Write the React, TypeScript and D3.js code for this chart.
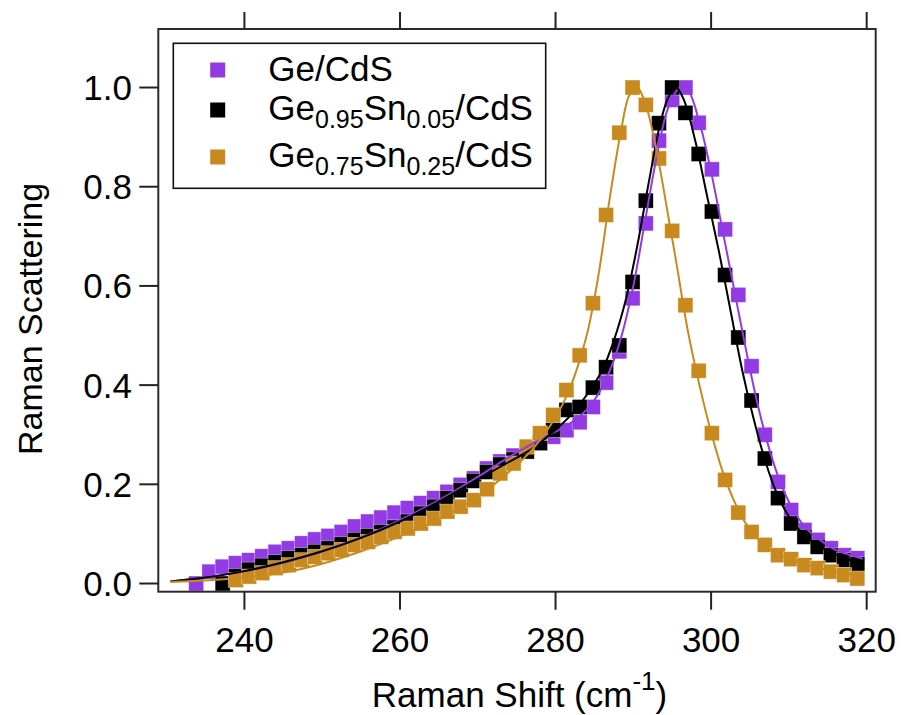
import React from "react";
import * as d3 from "d3";

// Shared measurement grid (Raman shift, cm^-1)
const shifts = [
  230.4, 232.1, 233.8, 235.5, 237.2, 238.9, 240.6, 242.3, 244.0, 245.7, 247.4, 249.1, 250.8,
  252.5, 254.2, 255.9, 257.6, 259.3, 261.0, 262.7, 264.4, 266.1, 267.8, 269.5, 271.2, 272.9,
  274.6, 276.3, 278.0, 279.7, 281.4, 283.1, 284.8, 286.5, 288.2, 289.9, 291.6, 293.3, 295.0,
  296.7, 298.4, 300.1, 301.8, 303.5, 305.2, 306.9, 308.6, 310.3, 312.0, 313.7, 315.4, 317.1, 318.8,
];

// Marker values (null = no point)
const geCdS = [
  null, null, 0.0, 0.024, 0.034, 0.041, 0.047, 0.055, 0.064, 0.071, 0.081, 0.089, 0.096,
  0.104, 0.115, 0.125, 0.133, 0.143, 0.152, 0.162, 0.172, 0.185, 0.199, 0.212, 0.232, 0.246,
  0.258, 0.27, 0.284, 0.296, 0.309, 0.325, 0.356, 0.405, 0.468, 0.575, 0.726, 0.893, 0.975,
  1.0, 0.929, 0.835, 0.714, 0.582, 0.438, 0.3, 0.205, 0.148, 0.108, 0.088, 0.071, 0.057, 0.051,
];
const ge95Sn05 = [
  null, null, null, null, 0.0, 0.015, 0.028, 0.036, 0.043, 0.051, 0.057, 0.064, 0.071,
  0.079, 0.088, 0.096, 0.104, 0.113, 0.125, 0.141, 0.155, 0.172, 0.188, 0.207, 0.225, 0.24,
  0.25, 0.266, 0.283, 0.31, 0.35, 0.356, 0.395, 0.436, 0.48, 0.608, 0.772, 0.928, 1.0,
  0.949, 0.866, 0.75, 0.622, 0.496, 0.369, 0.252, 0.172, 0.121, 0.094, 0.074, 0.057, 0.047, 0.039,
];
const ge75Sn25 = [
  null, null, null, null, null, 0.007, 0.014, 0.021, 0.031, 0.037, 0.047, 0.054, 0.061,
  0.068, 0.078, 0.084, 0.094, 0.104, 0.111, 0.121, 0.131, 0.145, 0.155, 0.168, 0.19, 0.222,
  0.242, 0.276, 0.303, 0.34, 0.39, 0.46, 0.565, 0.743, 0.909, 1.0, 0.965, 0.857, 0.711,
  0.561, 0.429, 0.303, 0.209, 0.143, 0.104, 0.078, 0.057, 0.049, 0.037, 0.031, 0.024, 0.017, 0.01,
];

// Fitted curves
const fitGeX = [230.5, 235, 240, 245, 250, 255, 260, 265, 270, 274, 278, 281, 283, 285, 287, 288.5, 290, 291.5, 293, 294.5, 296, 297, 298.5, 300, 301.5, 303, 304.5, 306, 307.5, 309, 310.5, 312, 314, 316, 318, 319.5];
const fitGeY = [0.004, 0.012, 0.025, 0.042, 0.065, 0.093, 0.128, 0.168, 0.215, 0.255, 0.29, 0.315, 0.335, 0.37, 0.43, 0.5, 0.6, 0.73, 0.86, 0.96, 1.0, 0.995, 0.93, 0.83, 0.71, 0.59, 0.47, 0.36, 0.27, 0.2, 0.15, 0.115, 0.088, 0.068, 0.057, 0.05];
const fitGeSn05X = [230.5, 235, 240, 245, 250, 255, 260, 265, 270, 274, 277, 280, 282, 284, 286, 287.5, 289, 290.5, 292, 293.5, 294.5, 295.5, 296.5, 298, 299.5, 301, 302.5, 304, 305.5, 307, 308.5, 310, 311.5, 313, 315, 317, 319.5];
const fitGeSn05Y = [0.004, 0.012, 0.025, 0.043, 0.065, 0.092, 0.125, 0.165, 0.21, 0.245, 0.272, 0.31, 0.34, 0.38, 0.43, 0.49, 0.57, 0.68, 0.81, 0.93, 0.98, 1.0, 0.975, 0.89, 0.78, 0.67, 0.55, 0.43, 0.33, 0.245, 0.18, 0.135, 0.105, 0.085, 0.066, 0.052, 0.04];
const fitGeSn25X = [230.5, 235, 240, 245, 250, 255, 260, 265, 270, 274, 277, 280, 282, 284, 285.5, 287, 288.5, 289.5, 290.5, 291.5, 292.5, 293.5, 294.5, 295.5, 297, 298.5, 300, 301.5, 303, 304.5, 306, 308, 310, 312, 315, 319.5];
const fitGeSn25Y = [0.003, 0.006, 0.012, 0.022, 0.04, 0.065, 0.095, 0.13, 0.175, 0.225, 0.27, 0.335, 0.4, 0.5, 0.62, 0.78, 0.92, 0.985, 1.0, 0.97, 0.91, 0.83, 0.74, 0.65, 0.51, 0.4, 0.305, 0.225, 0.165, 0.12, 0.09, 0.064, 0.05, 0.04, 0.027, 0.013];

const xTicks = [240, 260, 280, 300, 320];
const yTicks = [0.0, 0.2, 0.4, 0.6, 0.8, 1.0];

const PURPLE = "#923BE4";
const BLACK = "#000000";
const ORANGE = "#C88A1E";

const FONT = "'Liberation Sans', Arial, Helvetica, sans-serif";

export default function App() {
  const W = 901, H = 715;
  const left = 158.3, right = 875.7, top = 29, bottom = 591.7;
  const x = d3.scaleLinear().domain([228.93, 321.16]).range([left, right]);
  const y = d3.scaleLinear().domain([-0.0165, 1.118]).range([bottom, top]);

  const series = [
    { name: "ge", vals: geCdS, color: PURPLE, fx: fitGeX, fy: fitGeY },
    { name: "ge95", vals: ge95Sn05, color: BLACK, fx: fitGeSn05X, fy: fitGeSn05Y },
    { name: "ge75", vals: ge75Sn25, color: ORANGE, fx: fitGeSn25X, fy: fitGeSn25Y },
  ];

  const line = d3
    .line<[number, number]>()
    .x((d) => x(d[0]))
    .y((d) => y(d[1]))
    .curve(d3.curveCatmullRom.alpha(0.5));

  const ms = 15;

  return (
    <svg
      width={W}
      height={H}
      style={{ position: "absolute", left: 0, top: 0, background: "#fff" }}
      fontFamily={FONT}
    >
      <rect x={0} y={0} width={W} height={H} fill="#fff" />
      {/* markers */}
      {series.map((s) => (
        <g key={s.name + "m"}>
          {s.vals.map((v, i) =>
            v === null ? null : (
              <rect
                key={i}
                x={x(shifts[i]) - ms / 2}
                y={y(v) - ms / 2}
                width={ms}
                height={ms}
                fill={s.color}
                stroke="#fff"
                strokeWidth={0.6}
                strokeOpacity={0.6}
              />
            )
          )}
        </g>
      ))}
      {/* fit lines */}
      {series.map((s) => (
        <path
          key={s.name + "l"}
          d={line(s.fx.map((xx, i) => [xx, s.fy[i]] as [number, number])) || ""}
          fill="none"
          stroke={s.color}
          strokeWidth={2}
        />
      ))}
      {/* frame */}
      <rect
        x={left}
        y={top}
        width={right - left}
        height={bottom - top}
        fill="none"
        stroke="#2b2b2b"
        strokeWidth={2}
      />
      {/* x ticks bottom & top */}
      {xTicks.map((t) => (
        <g key={"xt" + t}>
          <line x1={x(t)} x2={x(t)} y1={bottom} y2={bottom + 18} stroke="#222" strokeWidth={2} />
          <line x1={x(t)} x2={x(t)} y1={top} y2={top - 17} stroke="#222" strokeWidth={2} />
          <text x={x(t)} y={652} textAnchor="middle" fontSize={35} fill="#000">
            {t}
          </text>
        </g>
      ))}
      {/* y ticks */}
      {yTicks.map((t) => (
        <g key={"yt" + t}>
          <line x1={left - 19} x2={left} y1={y(t)} y2={y(t)} stroke="#222" strokeWidth={2} />
          <text x={132} y={y(t) + 12.5} textAnchor="end" fontSize={35} fill="#000">
            {t.toFixed(1)}
          </text>
        </g>
      ))}
      {/* axis titles */}
      <text x={519.5} y={707} textAnchor="middle" fontSize={35} fill="#000">
        Raman Shift (cm
        <tspan fontSize={26} dy={-17}>-1</tspan>
        <tspan dy={17}>)</tspan>
      </text>
      <text
        transform="translate(42,319) rotate(-90)"
        textAnchor="middle"
        fontSize={34}
        fill="#000"
      >
        Raman Scattering
      </text>
      {/* legend */}
      <rect x={173.3} y={43.3} width={372.4} height={145} fill="#fff" stroke="#111" strokeWidth={1.6} />
      <rect x={217.7 - 7.5} y={70 - 7.5} width={15} height={15} fill={PURPLE} />
      <rect x={217.7 - 7.5} y={110 - 7.5} width={15} height={15} fill={BLACK} />
      <rect x={217.7 - 7.5} y={157 - 7.5} width={15} height={15} fill={ORANGE} />
      <text x={268.3} y={81} fontSize={35} fill="#000">Ge/CdS</text>
      <text x={268.3} y={120} fontSize={35} fill="#000">
        Ge
        <tspan fontSize={25} dy={8}>0.95</tspan>
        <tspan dy={-8}>Sn</tspan>
        <tspan fontSize={25} dy={8}>0.05</tspan>
        <tspan dy={-8}>/CdS</tspan>
      </text>
      <text x={268.3} y={167} fontSize={35} fill="#000">
        Ge
        <tspan fontSize={25} dy={8}>0.75</tspan>
        <tspan dy={-8}>Sn</tspan>
        <tspan fontSize={25} dy={8}>0.25</tspan>
        <tspan dy={-8}>/CdS</tspan>
      </text>
    </svg>
  );
}
